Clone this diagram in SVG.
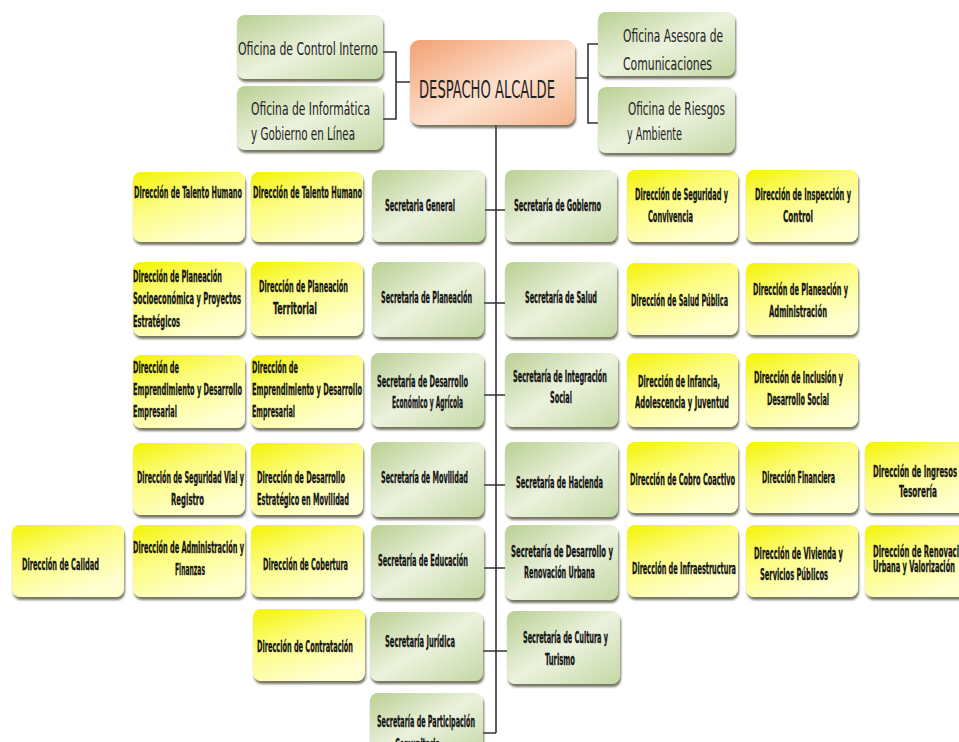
<svg xmlns="http://www.w3.org/2000/svg" width="959" height="742" viewBox="0 0 959 742">
<defs>
<linearGradient id="gy" x1="0" y1="0" x2="0.55" y2="1">
<stop offset="0" stop-color="#f4f300"/>
<stop offset="0.45" stop-color="#fcfc80"/>
<stop offset="1" stop-color="#ffffd2"/>
</linearGradient>
<linearGradient id="gg" x1="0" y1="0" x2="1" y2="1">
<stop offset="0" stop-color="#b9cf92"/>
<stop offset="0.5" stop-color="#ebf2dd"/>
<stop offset="1" stop-color="#c4d8a4"/>
</linearGradient>
<linearGradient id="go" x1="0" y1="0" x2="1" y2="1">
<stop offset="0" stop-color="#f3a070"/>
<stop offset="0.55" stop-color="#fde2cf"/>
<stop offset="1" stop-color="#f5b48c"/>
</linearGradient>
<filter id="sh" x="-10%" y="-10%" width="120%" height="130%">
<feDropShadow dx="1" dy="3" stdDeviation="1" flood-color="#55553f" flood-opacity="0.8"/>
</filter>
</defs>
<style>
.y{fill:url(#gy);filter:url(#sh)}
.g{fill:url(#gg);filter:url(#sh)}
.o{fill:url(#go);filter:url(#sh)}
.t{font-family:"Liberation Sans Narrow","DejaVu Sans Condensed","Liberation Sans",sans-serif;font-weight:bold;font-size:8.2px;fill:#151515;stroke:#151515;stroke-width:0.15}
.c{font-family:"Liberation Sans Narrow","DejaVu Sans Condensed","Liberation Sans",sans-serif;font-size:11.2px;fill:#222}
.d{font-size:15.5px}
.ln{stroke:#333;stroke-width:1.6;fill:none}
</style>
<rect width="959" height="742" fill="#fff"/>

<g id="connectors">
<path class="ln" d="M383 52H396V119H383M396 82H410"/>
<path class="ln" d="M598 44H588V123H598M575 78H588"/>
<path class="ln" d="M496 125V733"/>
<path class="ln" d="M485 210H505M484 303H505M484 395H505M484 485H505M484 568H505M483 651H507M483 733H496"/>
</g>

<g id="oficina-control-interno"><rect class="g" x="237" y="15" width="146" height="64" rx="8"/><text class="c" transform="matrix(1 0 0 1.65 238 55)" textLength="140" lengthAdjust="spacingAndGlyphs">Oficina de Control Interno</text></g>
<g id="oficina-informatica"><rect class="g" x="237" y="86" width="146" height="64" rx="8"/><text class="c" transform="matrix(1 0 0 1.65 251 115)" textLength="119" lengthAdjust="spacingAndGlyphs">Oficina de Informática</text><text class="c" transform="matrix(1 0 0 1.65 251 140)" textLength="104" lengthAdjust="spacingAndGlyphs">y Gobierno en Línea</text></g>
<g id="despacho-alcalde"><rect class="o" x="410" y="40" width="165" height="85" rx="9"/><text class="c d" transform="matrix(1 0 0 1.65 419 98)" textLength="136" lengthAdjust="spacingAndGlyphs">DESPACHO ALCALDE</text></g>
<g id="oficina-asesora"><rect class="g" x="598" y="12" width="137" height="64" rx="8"/><text class="c" transform="matrix(1 0 0 1.65 623 42)" textLength="100" lengthAdjust="spacingAndGlyphs">Oficina Asesora de</text><text class="c" transform="matrix(1 0 0 1.65 623 70)" textLength="89" lengthAdjust="spacingAndGlyphs">Comunicaciones</text></g>
<g id="oficina-riesgos"><rect class="g" x="598" y="87" width="137" height="66" rx="8"/><text class="c" transform="matrix(1 0 0 1.65 628 115)" textLength="97" lengthAdjust="spacingAndGlyphs">Oficina de Riesgos</text><text class="c" transform="matrix(1 0 0 1.65 627 140)" textLength="55" lengthAdjust="spacingAndGlyphs">y Ambiente</text></g>

<g id="sec-general"><rect class="g" x="372" y="170" width="113" height="72" rx="8"/><text class="t" transform="matrix(1 0 0 1.85 385 211)" textLength="70" lengthAdjust="spacingAndGlyphs">Secretaria General</text></g>
<g id="sec-planeacion"><rect class="g" x="372" y="262" width="112" height="75" rx="8"/><text class="t" transform="matrix(1 0 0 1.85 381 303)" textLength="91" lengthAdjust="spacingAndGlyphs">Secretaria de Planeación</text></g>
<g id="sec-desarrollo-economico"><rect class="g" x="371" y="353" width="113" height="74" rx="8"/><text class="t" transform="matrix(1 0 0 1.85 377 387)" textLength="91" lengthAdjust="spacingAndGlyphs">Secretaría de Desarrollo</text><text class="t" transform="matrix(1 0 0 1.85 392 408)" textLength="71" lengthAdjust="spacingAndGlyphs">Económico y Agrícola</text></g>
<g id="sec-movilidad"><rect class="g" x="371" y="442" width="113" height="75" rx="8"/><text class="t" transform="matrix(1 0 0 1.85 381 483)" textLength="87" lengthAdjust="spacingAndGlyphs">Secretaría de Movilidad</text></g>
<g id="sec-educacion"><rect class="g" x="371" y="525" width="113" height="73" rx="8"/><text class="t" transform="matrix(1 0 0 1.85 378 566)" textLength="90" lengthAdjust="spacingAndGlyphs">Secretaría de Educación</text></g>
<g id="sec-juridica"><rect class="g" x="370" y="612" width="113" height="69" rx="8"/><text class="t" transform="matrix(1 0 0 1.85 385 647)" textLength="70" lengthAdjust="spacingAndGlyphs">Secretaría Jurídica</text></g>
<g id="sec-participacion"><rect class="g" x="370" y="693" width="113" height="62" rx="8"/><text class="t" transform="matrix(1 0 0 1.85 377 727)" textLength="98" lengthAdjust="spacingAndGlyphs">Secretaría de Participación</text><text class="t" transform="matrix(1 0 0 1.85 395 750)" textLength="45" lengthAdjust="spacingAndGlyphs">Comunitaria</text></g>

<g id="sec-gobierno"><rect class="g" x="505" y="170" width="112" height="72" rx="8"/><text class="t" transform="matrix(1 0 0 1.85 514 211)" textLength="87" lengthAdjust="spacingAndGlyphs">Secretaría de Gobierno</text></g>
<g id="sec-salud"><rect class="g" x="505" y="262" width="112" height="75" rx="8"/><text class="t" transform="matrix(1 0 0 1.85 525 303)" textLength="72" lengthAdjust="spacingAndGlyphs">Secretaría de Salud</text></g>
<g id="sec-integracion"><rect class="g" x="505" y="353" width="113" height="74" rx="8"/><text class="t" transform="matrix(1 0 0 1.85 513 382)" textLength="94" lengthAdjust="spacingAndGlyphs">Secretaría de Integración</text><text class="t" transform="matrix(1 0 0 1.85 550 403)" textLength="22" lengthAdjust="spacingAndGlyphs">Social</text></g>
<g id="sec-hacienda"><rect class="g" x="505" y="442" width="113" height="75" rx="8"/><text class="t" transform="matrix(1 0 0 1.85 516 488)" textLength="87" lengthAdjust="spacingAndGlyphs">Secretaría de Hacienda</text></g>
<g id="sec-desarrollo-urbano"><rect class="g" x="505" y="525" width="113" height="75" rx="8"/><text class="t" transform="matrix(1 0 0 1.85 511 557)" textLength="102" lengthAdjust="spacingAndGlyphs">Secretaría de Desarrollo y</text><text class="t" transform="matrix(1 0 0 1.85 524 578)" textLength="71" lengthAdjust="spacingAndGlyphs">Renovación Urbana</text></g>
<g id="sec-cultura"><rect class="g" x="507" y="611" width="113" height="73" rx="8"/><text class="t" transform="matrix(1 0 0 1.85 523 643)" textLength="85" lengthAdjust="spacingAndGlyphs">Secretaría de Cultura y</text><text class="t" transform="matrix(1 0 0 1.85 545 665)" textLength="30" lengthAdjust="spacingAndGlyphs">Turismo</text></g>

<g id="dir-talento-1"><rect class="y" x="133" y="172" width="112" height="70" rx="8"/><text class="t" transform="matrix(1 0 0 1.85 134 198)" textLength="108" lengthAdjust="spacingAndGlyphs">Dirección de Talento Humano</text></g>
<g id="dir-talento-2"><rect class="y" x="251" y="172" width="112" height="70" rx="8"/><text class="t" transform="matrix(1 0 0 1.85 253 198)" textLength="109" lengthAdjust="spacingAndGlyphs">Dirección de Talento Humano</text></g>
<g id="dir-planeacion-socio"><rect class="y" x="133" y="262" width="112" height="74" rx="8"/><text class="t" transform="matrix(1 0 0 1.85 133 282)" textLength="89" lengthAdjust="spacingAndGlyphs">Dirección de Planeación</text><text class="t" transform="matrix(1 0 0 1.85 133 304)" textLength="108" lengthAdjust="spacingAndGlyphs">Socioeconómica y Proyectos</text><text class="t" transform="matrix(1 0 0 1.85 133 327)" textLength="47" lengthAdjust="spacingAndGlyphs">Estratégicos</text></g>
<g id="dir-planeacion-territorial"><rect class="y" x="251" y="262" width="112" height="74" rx="8"/><text class="t" transform="matrix(1 0 0 1.85 259 292)" textLength="89" lengthAdjust="spacingAndGlyphs">Dirección de Planeación</text><text class="t" transform="matrix(1 0 0 1.85 273 314)" textLength="44" lengthAdjust="spacingAndGlyphs">Territorial</text></g>
<g id="dir-emprendimiento-1"><rect class="y" x="133" y="355" width="112" height="73" rx="8"/><text class="t" transform="matrix(1 0 0 1.85 133 373)" textLength="46" lengthAdjust="spacingAndGlyphs">Dirección de</text><text class="t" transform="matrix(1 0 0 1.85 133 395)" textLength="109" lengthAdjust="spacingAndGlyphs">Emprendimiento y Desarrollo</text><text class="t" transform="matrix(1 0 0 1.85 133 417)" textLength="44" lengthAdjust="spacingAndGlyphs">Empresarial</text></g>
<g id="dir-emprendimiento-2"><rect class="y" x="251" y="355" width="112" height="73" rx="8"/><text class="t" transform="matrix(1 0 0 1.85 252 373)" textLength="46" lengthAdjust="spacingAndGlyphs">Dirección de</text><text class="t" transform="matrix(1 0 0 1.85 252 395)" textLength="110" lengthAdjust="spacingAndGlyphs">Emprendimiento y Desarrollo</text><text class="t" transform="matrix(1 0 0 1.85 252 417)" textLength="43" lengthAdjust="spacingAndGlyphs">Empresarial</text></g>
<g id="dir-seguridad-vial"><rect class="y" x="133" y="443" width="112" height="72" rx="8"/><text class="t" transform="matrix(1 0 0 1.85 137 483)" textLength="107" lengthAdjust="spacingAndGlyphs">Dirección de Seguridad Vial y</text><text class="t" transform="matrix(1 0 0 1.85 171 505)" textLength="33" lengthAdjust="spacingAndGlyphs">Registro</text></g>
<g id="dir-desarrollo-movilidad"><rect class="y" x="251" y="443" width="112" height="72" rx="8"/><text class="t" transform="matrix(1 0 0 1.85 257 483)" textLength="88" lengthAdjust="spacingAndGlyphs">Dirección de Desarrollo</text><text class="t" transform="matrix(1 0 0 1.85 257 505)" textLength="92" lengthAdjust="spacingAndGlyphs">Estratégico en Movilidad</text></g>
<g id="dir-calidad"><rect class="y" x="12" y="525" width="112" height="72" rx="8"/><text class="t" transform="matrix(1 0 0 1.85 22 570)" textLength="77" lengthAdjust="spacingAndGlyphs">Dirección de Calidad</text></g>
<g id="dir-administracion"><rect class="y" x="133" y="525" width="112" height="72" rx="8"/><text class="t" transform="matrix(1 0 0 1.85 133 553)" textLength="111" lengthAdjust="spacingAndGlyphs">Dirección de Administración y</text><text class="t" transform="matrix(1 0 0 1.85 175 575)" textLength="30" lengthAdjust="spacingAndGlyphs">Finanzas</text></g>
<g id="dir-cobertura"><rect class="y" x="251" y="525" width="112" height="72" rx="8"/><text class="t" transform="matrix(1 0 0 1.85 263 570)" textLength="85" lengthAdjust="spacingAndGlyphs">Dirección de Cobertura</text></g>
<g id="dir-contratacion"><rect class="y" x="253" y="609" width="112" height="72" rx="8"/><text class="t" transform="matrix(1 0 0 1.85 257 652)" textLength="96" lengthAdjust="spacingAndGlyphs">Dirección de Contratación</text></g>

<g id="dir-seguridad-convivencia"><rect class="y" x="627" y="170" width="111" height="72" rx="8"/><text class="t" transform="matrix(1 0 0 1.85 635 200)" textLength="93" lengthAdjust="spacingAndGlyphs">Dirección de Seguridad y</text><text class="t" transform="matrix(1 0 0 1.85 648 222)" textLength="45" lengthAdjust="spacingAndGlyphs">Convivencia</text></g>
<g id="dir-inspeccion"><rect class="y" x="746" y="170" width="112" height="72" rx="8"/><text class="t" transform="matrix(1 0 0 1.85 755 200)" textLength="96" lengthAdjust="spacingAndGlyphs">Dirección de Inspección y</text><text class="t" transform="matrix(1 0 0 1.85 783 222)" textLength="30" lengthAdjust="spacingAndGlyphs">Control</text></g>
<g id="dir-salud-publica"><rect class="y" x="627" y="263" width="111" height="72" rx="8"/><text class="t" transform="matrix(1 0 0 1.85 631 306)" textLength="97" lengthAdjust="spacingAndGlyphs">Dirección de Salud Pública</text></g>
<g id="dir-planeacion-admin"><rect class="y" x="746" y="263" width="112" height="72" rx="8"/><text class="t" transform="matrix(1 0 0 1.85 753 295)" textLength="95" lengthAdjust="spacingAndGlyphs">Dirección de Planeación y</text><text class="t" transform="matrix(1 0 0 1.85 769 317)" textLength="58" lengthAdjust="spacingAndGlyphs">Administración</text></g>
<g id="dir-infancia"><rect class="y" x="627" y="353" width="111" height="74" rx="8"/><text class="t" transform="matrix(1 0 0 1.85 638 387)" textLength="82" lengthAdjust="spacingAndGlyphs">Dirección de Infancia,</text><text class="t" transform="matrix(1 0 0 1.85 635 408)" textLength="94" lengthAdjust="spacingAndGlyphs">Adolescencia y Juventud</text></g>
<g id="dir-inclusion"><rect class="y" x="746" y="353" width="112" height="74" rx="8"/><text class="t" transform="matrix(1 0 0 1.85 754 383)" textLength="89" lengthAdjust="spacingAndGlyphs">Dirección de Inclusión y</text><text class="t" transform="matrix(1 0 0 1.85 767 405)" textLength="62" lengthAdjust="spacingAndGlyphs">Desarrollo Social</text></g>
<g id="dir-cobro-coactivo"><rect class="y" x="627" y="442" width="111" height="71" rx="8"/><text class="t" transform="matrix(1 0 0 1.85 630 485)" textLength="105" lengthAdjust="spacingAndGlyphs">Dirección de Cobro Coactivo</text></g>
<g id="dir-financiera"><rect class="y" x="746" y="442" width="112" height="71" rx="8"/><text class="t" transform="matrix(1 0 0 1.85 762 483)" textLength="73" lengthAdjust="spacingAndGlyphs">Dirección Financiera</text></g>
<g id="dir-ingresos"><rect class="y" x="865" y="442" width="110" height="71" rx="8"/><text class="t" transform="matrix(1 0 0 1.85 873 477)" textLength="84" lengthAdjust="spacingAndGlyphs">Dirección de Ingresos</text><text class="t" transform="matrix(1 0 0 1.85 899 497)" textLength="38" lengthAdjust="spacingAndGlyphs">Tesorería</text></g>
<g id="dir-infraestructura"><rect class="y" x="627" y="525" width="111" height="72" rx="8"/><text class="t" transform="matrix(1 0 0 1.85 632 574)" textLength="104" lengthAdjust="spacingAndGlyphs">Dirección de Infraestructura</text></g>
<g id="dir-vivienda"><rect class="y" x="746" y="525" width="112" height="72" rx="8"/><text class="t" transform="matrix(1 0 0 1.85 754 559)" textLength="89" lengthAdjust="spacingAndGlyphs">Dirección de Vivienda y</text><text class="t" transform="matrix(1 0 0 1.85 760 580)" textLength="68" lengthAdjust="spacingAndGlyphs">Servicios Públicos</text></g>
<g id="dir-renovacion"><rect class="y" x="865" y="525" width="110" height="72" rx="8"/><text class="t" transform="matrix(1 0 0 1.85 873 557)" textLength="86" lengthAdjust="spacingAndGlyphs">Dirección de Renovaci</text><text class="t" transform="matrix(1 0 0 1.85 873 572)" textLength="82" lengthAdjust="spacingAndGlyphs">Urbana y Valorización</text></g>
</svg>
